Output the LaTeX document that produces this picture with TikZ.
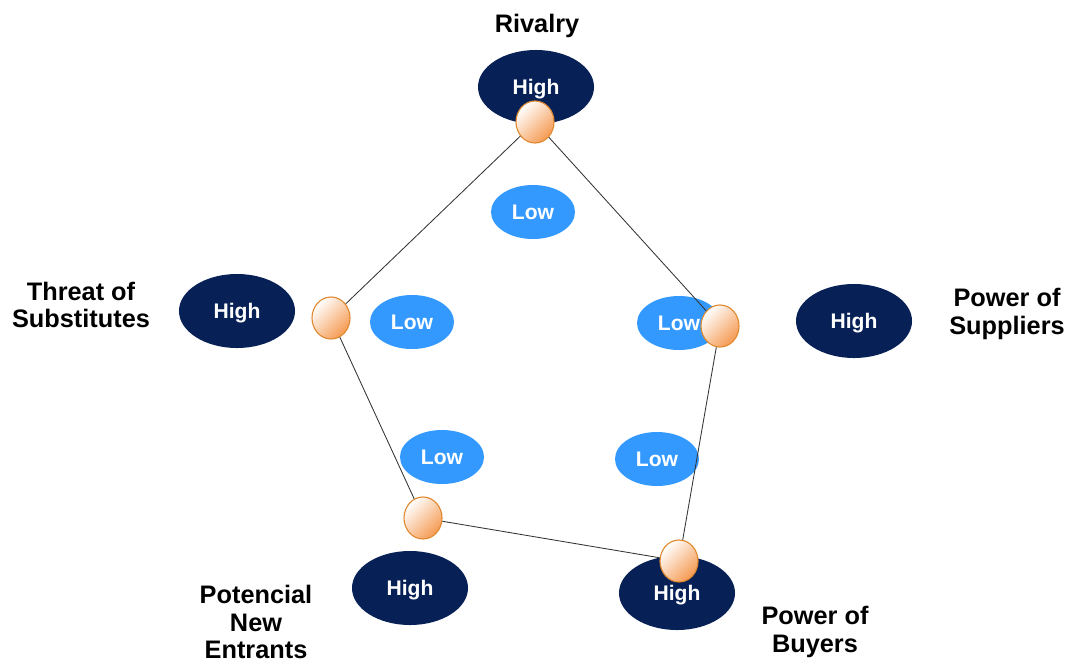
\documentclass[tikz,border=0pt]{standalone}
\usepackage{fontspec}
\setmainfont{Liberation Sans}
\usepackage{tikz}
\usetikzlibrary{shapes.geometric,positioning}
\definecolor{navy}{HTML}{072157}
\definecolor{lowblue}{HTML}{3399FF}
\definecolor{ballorange}{HTML}{F59A52}
\definecolor{balledge}{HTML}{E08A30}
\tikzstyle{high}  = [ellipse, fill=navy, minimum width=2.9cm, minimum height=1.85cm, text=white, text depth=0pt, font=\bfseries\fontsize{15}{17}\selectfont]
\tikzstyle{low}   = [ellipse, fill=lowblue, minimum width=2.1cm, minimum height=1.35cm, text=white, text depth=0pt, font=\bfseries\fontsize{15}{17}\selectfont]
\tikzstyle{ball}  = [ellipse, draw=balledge, thick, top color=white, bottom color=ballorange, shading angle=45, minimum width=0.95cm, minimum height=1.05cm, inner sep=0pt]
\tikzstyle{force} = [align=center, font=\bfseries\fontsize{18}{19.3}\selectfont]
\tikzstyle{edge}  = [black!80, semithick]

\begin{document}
\begin{tikzpicture}[x=0.025cm, y=-0.025cm]
        \useasboundingbox (0,0) rectangle (1070,664);

        % high ends
        \node[high] (rivH) at (536,87) {High};
        \node[high] (subH) at (237,311) {High};
        \node[high] (supH) at (854,321) {High};
        \node[high] (entH) at (410,588) {High};
        \node[high] (buyH) at (677,593) {High};

        % low ends
        \node[low] (rivL) at (533,212) {Low};
        \node[low] (subL) at (412,322) {Low};
        \node[low] (supL) at (679,323) {Low};
        \node[low] (entL) at (442,457) {Low};
        \node[low] (buyL) at (657,459) {Low};

        % forces
        \node[force] (riv) at (537,26) {Rivalry};
        \node[force] (sub) at (81,305) {Threat of\\Substitutes};
        \node[force] (sup) at (1007,314) {Power of\\Suppliers};
        \node[force] (ent) at (256,622) {Potencial\\New\\Entrants};
        \node[force] (buy) at (815,632) {Power of\\Buyers};

        % profile
        \node[ball] (rivB) at (535,122) {};
        \node[ball] (supB) at (720,326) {};
        \node[ball] (buyB) at (679,561) {};
        \node[ball] (entB) at (423,518) {};
        \node[ball] (subB) at (331,318) {};

        \draw[edge] (rivB) -- (supB);
        \draw[edge] (supB) -- (buyB);
        \draw[edge] (buyB) -- (entB);
        \draw[edge] (entB) -- (subB);
        \draw[edge] (subB) -- (rivB);
    \end{tikzpicture}
\end{document}
